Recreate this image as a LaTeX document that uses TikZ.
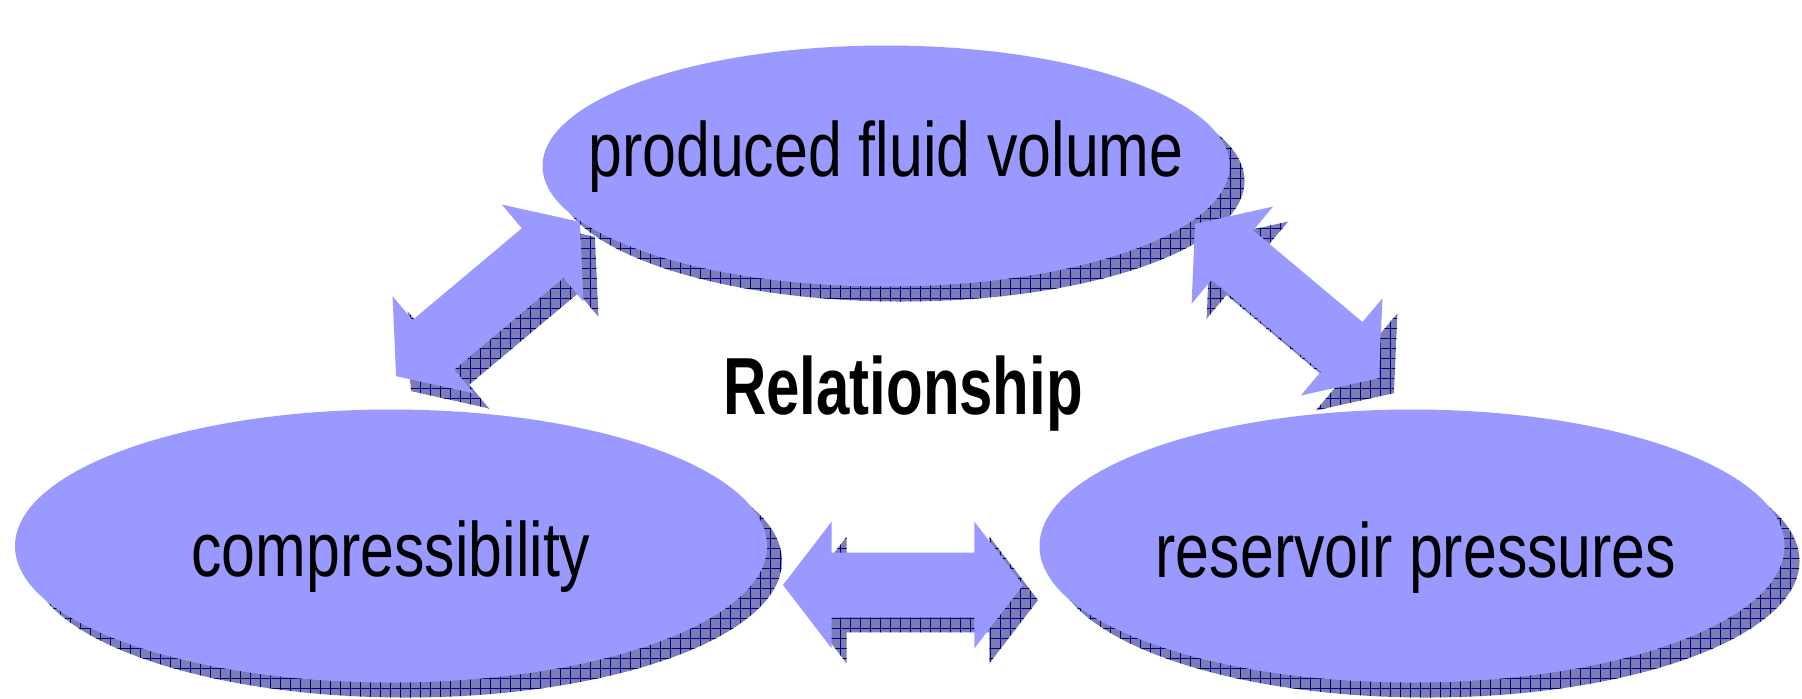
\documentclass[tikz,border=0pt]{standalone}
\usepackage{fontspec}
\setmainfont{Liberation Sans}
\usetikzlibrary{shapes.geometric,shapes.arrows,patterns.meta}
\definecolor{bubblefill}{RGB}{153,153,255}
\definecolor{shadebase}{RGB}{124,124,182}
\definecolor{shadegrid}{RGB}{0,0,128}
\newcommand{\squeezed}[1]{\scalebox{0.79}[1]{#1}}
\begin{document}
\begin{tikzpicture}[x=0.5pt, y=-0.5pt,
            bubble/.style={ellipse, fill=bubblefill, inner sep=0pt},
            link/.style={double arrow, fill=bubblefill, inner xsep=0pt, inner ysep=16pt, minimum width=63pt, minimum height=120pt,
                double arrow head extend=15.5pt, double arrow tip angle=105},
            shade/.style={fill=shadebase, postaction={pattern={Hatch[angle=0,distance=5pt,line width=0.45pt]}, pattern color=shadegrid}},
            caption/.style={anchor=base, font=\fontsize{38.5pt}{40pt}\selectfont},
            title/.style={anchor=base, font=\bfseries\fontsize{40.5pt}{42pt}\selectfont}
    ]
        \useasboundingbox (0,0) rectangle (1802,698);

        % Shadows of the ellipses
        \node[bubble, shade, minimum width=343.5pt, minimum height=120.5pt] (fluid_sh) at (901,181) {};
        \node[bubble, shade, minimum width=376pt, minimum height=136.5pt] (comp_sh) at (406,561) {};
        \node[bubble, shade, minimum width=372.5pt, minimum height=136.5pt] (press_sh) at (1427,561) {};

        % Ellipses
        \node[bubble, minimum width=343.5pt, minimum height=120.5pt] (fluid) at (886,166) {};
        \node[bubble, minimum width=376pt, minimum height=136.5pt] (comp) at (391,546) {};
        \node[bubble, minimum width=372.5pt, minimum height=136.5pt] (press) at (1412,546) {};

        \node[caption] (fluid_txt) at (886,176) {\squeezed{produced fluid volume}};
        \node[caption] (comp_txt) at (391,576) {\squeezed{compressibility}};
        \node[caption] (press_txt) at (1416,577) {\squeezed{reservoir pressures}};

        % Double arrows
        \node[link, shade, rotate=40] (link_fc_sh) at (503,314) {};
        \node[link, rotate=40] (link_fc) at (488,299) {};
        \node[link, shade, rotate=-40] (link_fp_sh) at (1302,316) {};
        \node[link, rotate=-40] (link_fp) at (1287,301) {};
        \node[link, shade] (link_cp_sh) at (918,600) {};
        \node[link] (link_cp) at (903,585) {};

        \node[title] (rel) at (903,414) {\scalebox{0.74}[1]{Relationship}};

    \end{tikzpicture}
\end{document}
